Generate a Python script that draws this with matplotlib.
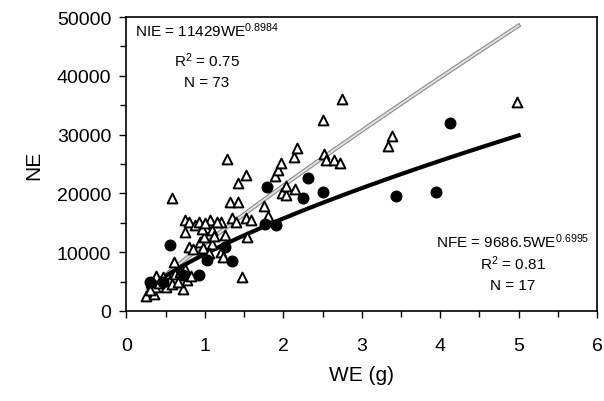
import numpy as np
import matplotlib
matplotlib.use('Agg')
import matplotlib.pyplot as plt
from matplotlib.ticker import MultipleLocator

plt.rcParams['font.family'] = ['Liberation Sans', 'DejaVu Sans']
plt.rcParams['mathtext.fontset'] = 'custom'
plt.rcParams['mathtext.rm'] = 'Liberation Sans'
plt.rcParams['mathtext.default'] = 'regular'

# NIE data (open triangles)
nie_we = [0.25, 0.35, 0.36, 0.38, 0.46, 0.51, 0.55, 0.58, 0.62, 0.72,
          0.77, 0.82, 0.75, 0.60, 0.58, 0.74, 0.75, 0.80, 0.87, 0.92,
          0.80, 0.85, 0.94, 0.98, 0.99, 1.02, 1.07, 1.09, 1.09, 1.12,
          1.21, 1.26, 1.21, 1.23, 1.34, 1.40, 1.53, 1.59, 1.54, 1.47,
          1.32, 1.42, 1.42, 1.52, 1.28, 1.76, 1.81, 1.89, 1.93, 1.97,
          1.98, 2.03, 2.03, 2.15, 2.13, 2.17, 2.51, 2.75, 2.52, 2.55,
          2.64, 2.72, 3.38, 3.34, 4.98, 0.30, 0.42, 0.66, 0.68, 1.05,
          1.15, 0.96, 1.00]
nie_ne = [2600, 2900, 4100, 6000, 5700, 4000, 5300, 4600, 6300, 3700,
          5200, 6000, 7100, 8300, 19200, 13500, 15500, 15200, 14600, 15100,
          10800, 10500, 11800, 10700, 12500, 14100, 15500, 13700, 11400, 12700,
          15100, 12900, 10100, 9100, 15800, 15100, 15900, 15400, 12500, 5700,
          18600, 18600, 21700, 23100, 25900, 17900, 16200, 22900, 23900, 25100,
          20000, 19700, 21200, 20800, 26200, 27800, 32500, 36000, 26700, 25600,
          25600, 25100, 29800, 28000, 35500, 3500, 4700, 5000, 6600, 9800,
          15200, 13900, 15000]

# NFE data (filled circles)
nfe_we = [0.30, 0.47, 0.56, 0.72, 0.92, 1.03, 1.26, 1.35, 1.77, 1.79,
          1.91, 2.25, 2.32, 2.50, 3.44, 3.95, 4.12]
nfe_ne = [5000, 4900, 11200, 6100, 6100, 8700, 10800, 8550, 14800, 21100,
          14700, 19300, 22700, 20300, 19600, 20300, 31900]

# power fits shown on the chart: NE = a * WE^b
nie_fit = (11429, 0.8984)
nfe_fit = (9686.5, 0.6995)
fit_range = (0.28, 5.0)

fig = plt.figure(figsize=(6.04, 4.02), dpi=100)
ax = fig.add_axes([0.2094, 0.2239, 0.7790, 0.7313])

xs = np.linspace(fit_range[0], fit_range[1], 100)
ax.plot(xs, nie_fit[0] * xs ** nie_fit[1], color='#8a8a8a', lw=3.0, zorder=3)
ax.plot(xs, nie_fit[0] * xs ** nie_fit[1], color='#e2e2e2', lw=1.4, zorder=3)
ax.plot(xs, nfe_fit[0] * xs ** nfe_fit[1], color='black', lw=3.0, zorder=3)

ax.scatter(nie_we, nie_ne, marker='^', s=50, facecolor='white',
           edgecolor='black', linewidth=1.4, zorder=4)
ax.scatter(nfe_we, nfe_ne, marker='o', s=58, color='black', zorder=5)

ax.set_xlim(0, 6)
ax.set_ylim(0, 50000)
ax.xaxis.set_major_locator(MultipleLocator(1))
ax.xaxis.set_minor_locator(MultipleLocator(0.5))
ax.yaxis.set_major_locator(MultipleLocator(10000))
ax.yaxis.set_minor_locator(MultipleLocator(5000))
ax.tick_params(axis='both', which='major', direction='out', length=5, width=1, labelsize=14)
ax.tick_params(axis='both', which='minor', direction='out', length=4, width=1)
ax.tick_params(axis='x', which='major', pad=14)
ax.tick_params(axis='y', which='major', pad=6)
for sp in ax.spines.values():
    sp.set_linewidth(1.2)

ax.set_xlabel('WE (g)', fontsize=15, labelpad=8)
ax.set_ylabel('NE', fontsize=15, labelpad=10)

ax.text(0.171, 0.956, 'NIE = 11429WE$^{0.8984}$', transform=ax.transAxes,
        ha='center', va='center', fontsize=11)
ax.text(0.171, 0.854, 'R$^{2}$ = 0.75', transform=ax.transAxes,
        ha='center', va='center', fontsize=11)
ax.text(0.171, 0.779, 'N = 73', transform=ax.transAxes,
        ha='center', va='center', fontsize=11)

ax.text(0.821, 0.238, 'NFE = 9686.5WE$^{0.6995}$', transform=ax.transAxes,
        ha='center', va='center', fontsize=11)
ax.text(0.821, 0.163, 'R$^{2}$ = 0.81', transform=ax.transAxes,
        ha='center', va='center', fontsize=11)
ax.text(0.821, 0.088, 'N = 17', transform=ax.transAxes,
        ha='center', va='center', fontsize=11)

fig.savefig('out.png', dpi=100)
